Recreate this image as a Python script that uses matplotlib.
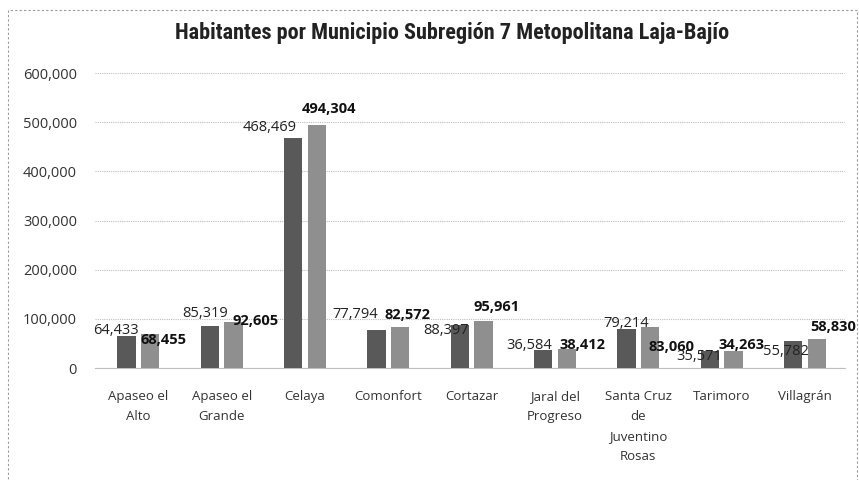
import numpy as np
import matplotlib
matplotlib.use("Agg")
import matplotlib.pyplot as plt
from matplotlib.patches import Rectangle
from matplotlib import font_manager

municipios = ["Apaseo el\nAlto", "Apaseo el\nGrande", "Celaya", "Comonfort", "Cortazar",
              "Jaral del\nProgreso", "Santa Cruz\nde\nJuventino\nRosas", "Tarimoro", "Villagrán"]
serie_1 = [64433, 85319, 468469, 77794, 88397, 36584, 79214, 35571, 55782]
serie_2 = [68455, 92605, 494304, 82572, 95961, 38412, 83060, 34263, 58830]
y_ticks = [0, 100000, 200000, 300000, 400000, 500000, 600000]

# label placement (pixel offsets from top of each bar), as Excel put them
off_1 = [(-11, 6), (-5, 13), (-24, 10), (-21, 15), (-14, -6), (-14, 5), (0, 6), (-11, -6), (-7, -11)]
off_2 = [(13, -6), (22, 1), (12, 16), (7, 12), (13, 14), (16, 4), (21, -20), (8, 6), (16, 12)]

# narrow face for the title if there is one
names = {f.name for f in font_manager.fontManager.ttflist}
title_font = "Roboto"
for cand in ["Liberation Sans Narrow", "Roboto Condensed", "Open Sans Condensed", "DejaVu Sans Condensed"]:
    if cand in names:
        title_font = cand
        break

fig = plt.figure(figsize=(8.59, 4.8), dpi=100)
ax = fig.add_axes([95 / 859, 1 - 368 / 480, 750 / 859, 295 / 480])

x = np.arange(len(municipios))
w = 0.22
ax.bar(x - 0.142, serie_1, w, color="#595959", zorder=3)
ax.bar(x + 0.142, serie_2, w, color="#8f8f8f", zorder=3)

for i in range(len(x)):
    ax.annotate(f"{serie_1[i]:,}", (x[i] - 0.142, serie_1[i]), xytext=off_1[i],
                textcoords="offset pixels", ha="center", va="center",
                fontsize=10.5, color="#222222", family="Open Sans", zorder=4)
    ax.annotate(f"{serie_2[i]:,}", (x[i] + 0.142, serie_2[i]), xytext=off_2[i],
                textcoords="offset pixels", ha="center", va="center",
                fontsize=10.5, fontweight="bold", color="#111111", family="Open Sans", zorder=4)

ax.set_xlim(-0.52, 8.48)
ax.set_ylim(0, 600000)
ax.set_yticks(y_ticks)
ax.set_yticklabels([f"{v:,}" for v in y_ticks], family="Open Sans", fontsize=10.5, color="#333333")
ax.set_xticks(x)
ax.set_xticklabels(municipios, family="Open Sans", fontsize=9.5, color="#333333", linespacing=1.7)
ax.tick_params(axis="both", length=0)
ax.tick_params(axis="x", pad=16)
ax.tick_params(axis="y", pad=13)
ax.grid(axis="y", color="#bdbdbd", linestyle=(0, (1, 1)), linewidth=0.8, zorder=0)
for s in ["top", "right", "left"]:
    ax.spines[s].set_visible(False)
ax.spines["bottom"].set_color("#bdbdbd")
ax.spines["bottom"].set_linestyle((0, (1, 1)))

tsize = 16 if title_font != "Roboto" else 13.5
fig.text(452 / 859, 1 - 33 / 480, "Habitantes por Municipio Subregión 7 Metopolitana Laja-Bajío",
         ha="center", va="center", fontsize=tsize, fontweight="semibold",
         color="#222222", family=[title_font, "DejaVu Sans"])

fig.patches.append(Rectangle((8 / 859, -0.05), 849 / 859, 1.05 - 10 / 480,
                             transform=fig.transFigure, fill=False,
                             edgecolor="#999999", linestyle=(0, (2, 2)), linewidth=0.8))

fig.savefig("out.png", dpi=100)
